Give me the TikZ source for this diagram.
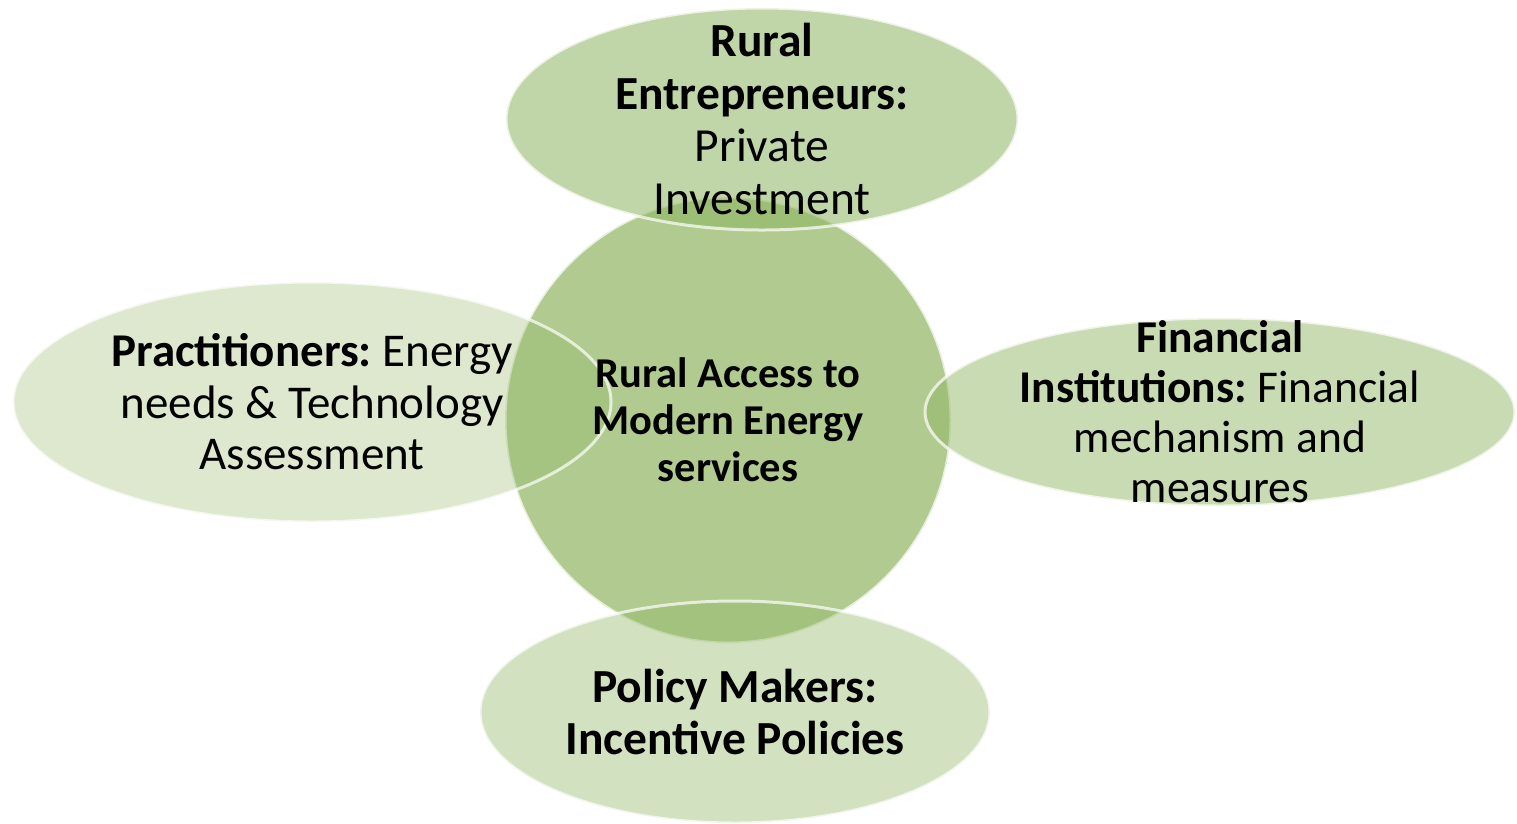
\documentclass[tikz,border=0pt]{standalone}
\usepackage{fontspec}
\setmainfont{Carlito}
\usetikzlibrary{shapes.geometric}
\definecolor{leaf}{RGB}{142,180,96}
\frenchspacing
\tikzset{blob/.style={draw=white, draw opacity=0.7, line width=3pt, fill=leaf, inner sep=0pt},
	oval/.style={blob, ellipse}, disc/.style={blob, circle},
	caption/.style={align=center, text=black, font=\fontsize{47.5}{52.5}\selectfont}}

\begin{document}
\begin{tikzpicture}[x=1pt,y=-1pt]
				\useasboundingbox (0,0) rectangle (1517,823);

				\node[disc, fill opacity=0.7, minimum size=446pt] (H) at (728,420) {};
				\node[oval, fill opacity=0.55, minimum width=512pt, minimum height=222pt] (E) at (762,119) {};
				\node[oval, fill opacity=0.3, minimum width=598pt, minimum height=240pt] (P) at (312,402) {};
				\node[oval, fill opacity=0.48, minimum width=590pt, minimum height=188pt] (F) at (1220,412) {};
				\node[oval, fill opacity=0.4, minimum width=510pt, minimum height=222pt] (M) at (735,712) {};

				\node[caption, font=\fontsize{42.5}{47}\selectfont] (Ht) at (H) {\textbf{Rural Access to}\\\textbf{Modern Energy}\\\textbf{services}};
				\node[caption] (Et) at (E) {\textbf{Rural}\\\textbf{Entrepreneurs:}\\Private\\Investment};
				\node[caption, font=\fontsize{47}{51.5}\selectfont] (Pt) at (P) {\textbf{Practitioners:} Energy\\needs \& Technology\\Assessment};
				\node[caption, font=\fontsize{45.5}{50}\selectfont] (Ft) at (F) {\textbf{Financial}\\\textbf{Institutions:} Financial\\mechanism and\\measures};
				\node[caption] (Mt) at (M) {\textbf{Policy Makers:}\\\textbf{Incentive Policies}};
			\end{tikzpicture}
\end{document}
